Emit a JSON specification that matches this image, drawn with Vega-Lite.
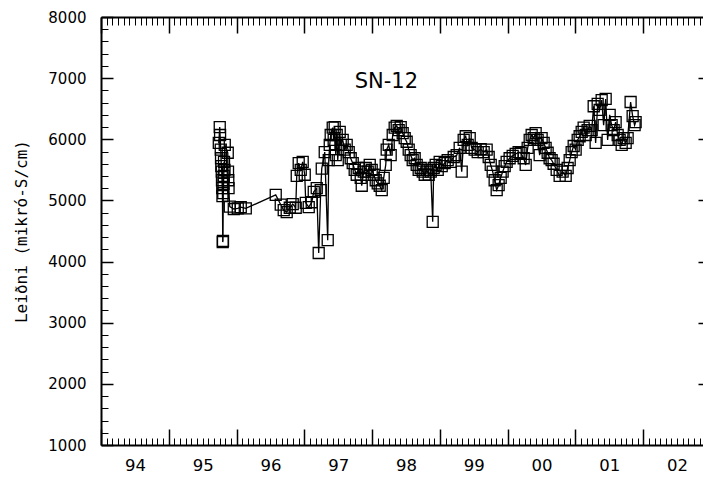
{
  "$schema": "https://vega.github.io/schema/vega-lite/v6.json",
  "width": 602,
  "height": 428,
  "autosize": "none",
  "padding": {"left": 101, "top": 17, "right": 0, "bottom": 33},
  "background": "white",
  "config": {"view": {"stroke": null}},
  "data": {"values": [
    {"t": 1995.738, "v": 5940}, {"t": 1995.752, "v": 6200}, {"t": 1995.757, "v": 6070}, {"t": 1995.767, "v": 5830},
    {"t": 1995.771, "v": 5690}, {"t": 1995.775, "v": 5560}, {"t": 1995.782, "v": 5470}, {"t": 1995.785, "v": 5330},
    {"t": 1995.789, "v": 5200}, {"t": 1995.792, "v": 5070}, {"t": 1995.796, "v": 4320}, {"t": 1995.800, "v": 4340},
    {"t": 1995.804, "v": 5120}, {"t": 1995.808, "v": 5270}, {"t": 1995.811, "v": 5400}, {"t": 1995.815, "v": 5630},
    {"t": 1995.822, "v": 5500}, {"t": 1995.826, "v": 5910}, {"t": 1995.870, "v": 5780}, {"t": 1995.874, "v": 5470},
    {"t": 1995.878, "v": 5330}, {"t": 1995.882, "v": 5200}, {"t": 1995.900, "v": 4900}, {"t": 1995.959, "v": 4860},
    {"t": 1996.018, "v": 4870}, {"t": 1996.062, "v": 4890}, {"t": 1996.136, "v": 4870},
    {"t": 1996.578, "v": 5090}, {"t": 1996.652, "v": 4930}, {"t": 1996.696, "v": 4840}, {"t": 1996.740, "v": 4810},
    {"t": 1996.785, "v": 4880}, {"t": 1996.829, "v": 4940}, {"t": 1996.873, "v": 4880}, {"t": 1996.888, "v": 5400},
    {"t": 1996.917, "v": 5610}, {"t": 1996.947, "v": 5500}, {"t": 1996.976, "v": 5630}, {"t": 1997.006, "v": 5420},
    {"t": 1997.021, "v": 4960}, {"t": 1997.065, "v": 4890}, {"t": 1997.109, "v": 4970}, {"t": 1997.139, "v": 5140},
    {"t": 1997.183, "v": 5200}, {"t": 1997.212, "v": 4140}, {"t": 1997.242, "v": 5170}, {"t": 1997.257, "v": 5520},
    {"t": 1997.301, "v": 5790}, {"t": 1997.345, "v": 4350}, {"t": 1997.360, "v": 5660}, {"t": 1997.375, "v": 5910},
    {"t": 1997.389, "v": 6070}, {"t": 1997.419, "v": 6190}, {"t": 1997.433, "v": 5990}, {"t": 1997.448, "v": 6200},
    {"t": 1997.463, "v": 5740}, {"t": 1997.478, "v": 6070}, {"t": 1997.493, "v": 5660}, {"t": 1997.522, "v": 6120},
    {"t": 1997.537, "v": 5910}, {"t": 1997.566, "v": 5990}, {"t": 1997.596, "v": 5830}, {"t": 1997.625, "v": 5910},
    {"t": 1997.655, "v": 5790}, {"t": 1997.684, "v": 5690}, {"t": 1997.714, "v": 5610}, {"t": 1997.743, "v": 5500},
    {"t": 1997.773, "v": 5420}, {"t": 1997.802, "v": 5530}, {"t": 1997.832, "v": 5370}, {"t": 1997.847, "v": 5240},
    {"t": 1997.876, "v": 5470}, {"t": 1997.906, "v": 5530}, {"t": 1997.935, "v": 5470}, {"t": 1997.965, "v": 5580},
    {"t": 1997.994, "v": 5500}, {"t": 1998.024, "v": 5420}, {"t": 1998.053, "v": 5330}, {"t": 1998.083, "v": 5280},
    {"t": 1998.112, "v": 5240}, {"t": 1998.142, "v": 5170}, {"t": 1998.171, "v": 5370}, {"t": 1998.201, "v": 5580},
    {"t": 1998.215, "v": 5830}, {"t": 1998.245, "v": 5910}, {"t": 1998.274, "v": 5740}, {"t": 1998.304, "v": 6070},
    {"t": 1998.333, "v": 6190}, {"t": 1998.363, "v": 6220}, {"t": 1998.392, "v": 6150}, {"t": 1998.422, "v": 6200},
    {"t": 1998.451, "v": 6100}, {"t": 1998.481, "v": 6020}, {"t": 1998.510, "v": 5960}, {"t": 1998.540, "v": 5830},
    {"t": 1998.569, "v": 5740}, {"t": 1998.599, "v": 5660}, {"t": 1998.628, "v": 5690}, {"t": 1998.658, "v": 5580},
    {"t": 1998.687, "v": 5500}, {"t": 1998.717, "v": 5530}, {"t": 1998.747, "v": 5470}, {"t": 1998.776, "v": 5420},
    {"t": 1998.806, "v": 5500}, {"t": 1998.835, "v": 5420}, {"t": 1998.865, "v": 5470}, {"t": 1998.894, "v": 4650},
    {"t": 1998.909, "v": 5530}, {"t": 1998.938, "v": 5580}, {"t": 1998.968, "v": 5500}, {"t": 1998.997, "v": 5630},
    {"t": 1999.027, "v": 5560}, {"t": 1999.071, "v": 5610}, {"t": 1999.115, "v": 5660}, {"t": 1999.159, "v": 5630},
    {"t": 1999.204, "v": 5710}, {"t": 1999.248, "v": 5740}, {"t": 1999.292, "v": 5860}, {"t": 1999.322, "v": 5470},
    {"t": 1999.351, "v": 5990}, {"t": 1999.381, "v": 6050}, {"t": 1999.410, "v": 5910}, {"t": 1999.440, "v": 6020},
    {"t": 1999.469, "v": 5860}, {"t": 1999.513, "v": 5830}, {"t": 1999.558, "v": 5790}, {"t": 1999.602, "v": 5840},
    {"t": 1999.646, "v": 5790}, {"t": 1999.690, "v": 5830}, {"t": 1999.720, "v": 5710}, {"t": 1999.750, "v": 5580},
    {"t": 1999.779, "v": 5470}, {"t": 1999.808, "v": 5330}, {"t": 1999.838, "v": 5170}, {"t": 1999.867, "v": 5250},
    {"t": 1999.897, "v": 5370}, {"t": 1999.926, "v": 5470}, {"t": 1999.956, "v": 5560}, {"t": 1999.985, "v": 5630},
    {"t": 2000.029, "v": 5690}, {"t": 2000.074, "v": 5730}, {"t": 2000.118, "v": 5760}, {"t": 2000.162, "v": 5790},
    {"t": 2000.192, "v": 5780}, {"t": 2000.236, "v": 5690}, {"t": 2000.266, "v": 5580}, {"t": 2000.295, "v": 5860},
    {"t": 2000.325, "v": 5990}, {"t": 2000.354, "v": 6070}, {"t": 2000.384, "v": 6020}, {"t": 2000.413, "v": 6100},
    {"t": 2000.442, "v": 5990}, {"t": 2000.472, "v": 5740}, {"t": 2000.501, "v": 6020}, {"t": 2000.531, "v": 5940},
    {"t": 2000.560, "v": 5860}, {"t": 2000.590, "v": 5780}, {"t": 2000.619, "v": 5690}, {"t": 2000.649, "v": 5660},
    {"t": 2000.678, "v": 5600}, {"t": 2000.723, "v": 5500}, {"t": 2000.767, "v": 5400}, {"t": 2000.811, "v": 5470},
    {"t": 2000.856, "v": 5400}, {"t": 2000.885, "v": 5530}, {"t": 2000.915, "v": 5660}, {"t": 2000.944, "v": 5790},
    {"t": 2000.974, "v": 5890}, {"t": 2001.003, "v": 5830}, {"t": 2001.033, "v": 5990}, {"t": 2001.062, "v": 6050},
    {"t": 2001.092, "v": 6120}, {"t": 2001.121, "v": 6190}, {"t": 2001.151, "v": 6070}, {"t": 2001.180, "v": 6150},
    {"t": 2001.210, "v": 6220}, {"t": 2001.239, "v": 6150}, {"t": 2001.269, "v": 6540}, {"t": 2001.298, "v": 5940},
    {"t": 2001.328, "v": 6580}, {"t": 2001.357, "v": 6480}, {"t": 2001.387, "v": 6640}, {"t": 2001.416, "v": 6230},
    {"t": 2001.446, "v": 6660}, {"t": 2001.475, "v": 5990}, {"t": 2001.505, "v": 6400}, {"t": 2001.534, "v": 6230},
    {"t": 2001.564, "v": 6150}, {"t": 2001.593, "v": 6280}, {"t": 2001.623, "v": 6070}, {"t": 2001.652, "v": 5990},
    {"t": 2001.682, "v": 5910}, {"t": 2001.711, "v": 6020}, {"t": 2001.741, "v": 5940}, {"t": 2001.770, "v": 6020},
    {"t": 2001.814, "v": 6610}, {"t": 2001.844, "v": 6380}, {"t": 2001.873, "v": 6230}, {"t": 2001.888, "v": 6280}
  ]},
  "resolve": {"axis": {"x": "independent", "y": "independent"}},
  "layer": [
    {
      "mark": {"type": "line", "color": "black", "strokeWidth": 1.3},
      "encoding": {
        "x": {"field": "t", "type": "quantitative",
          "scale": {"domain": [1994, 2002.882], "nice": false, "zero": false},
          "axis": {"orient": "bottom", "title": null, "grid": false,
            "values": [1994, 1994.0833, 1994.1667, 1994.25, 1994.3333, 1994.4167, 1994.5, 1994.5833, 1994.6667, 1994.75, 1994.8333, 1994.9167,
              1995, 1995.0833, 1995.1667, 1995.25, 1995.3333, 1995.4167, 1995.5, 1995.5833, 1995.6667, 1995.75, 1995.8333, 1995.9167,
              1996, 1996.0833, 1996.1667, 1996.25, 1996.3333, 1996.4167, 1996.5, 1996.5833, 1996.6667, 1996.75, 1996.8333, 1996.9167,
              1997, 1997.0833, 1997.1667, 1997.25, 1997.3333, 1997.4167, 1997.5, 1997.5833, 1997.6667, 1997.75, 1997.8333, 1997.9167,
              1998, 1998.0833, 1998.1667, 1998.25, 1998.3333, 1998.4167, 1998.5, 1998.5833, 1998.6667, 1998.75, 1998.8333, 1998.9167,
              1999, 1999.0833, 1999.1667, 1999.25, 1999.3333, 1999.4167, 1999.5, 1999.5833, 1999.6667, 1999.75, 1999.8333, 1999.9167,
              2000, 2000.0833, 2000.1667, 2000.25, 2000.3333, 2000.4167, 2000.5, 2000.5833, 2000.6667, 2000.75, 2000.8333, 2000.9167,
              2001, 2001.0833, 2001.1667, 2001.25, 2001.3333, 2001.4167, 2001.5, 2001.5833, 2001.6667, 2001.75, 2001.8333, 2001.9167,
              2002, 2002.0833, 2002.1667, 2002.25, 2002.3333, 2002.4167, 2002.5, 2002.5833, 2002.6667, 2002.75, 2002.8333],
            "domain": true, "domainColor": "black", "domainWidth": 2,
            "tickColor": "black",
            "tickSize": {"expr": "abs(datum.value - round(datum.value)) < 0.01 ? -16 : -7"},
            "tickWidth": {"expr": "abs(datum.value - round(datum.value)) < 0.01 ? 1.5 : 1"},
            "labelExpr": "abs(datum.value - floor(datum.value) - 0.5) < 0.01 ? format(floor(datum.value) % 100, '02d') : ''",
            "labelOverlap": false, "labelFlush": false, "labelBound": false,
            "labelFont": "DejaVu Sans", "labelFontSize": 16.5, "labelColor": "black", "labelPadding": 19
          }
        },
        "y": {"field": "v", "type": "quantitative",
          "scale": {"domain": [1000, 8000], "nice": false, "zero": false},
          "axis": {"orient": "left", "grid": false,
            "values": [1000, 1200, 1400, 1600, 1800, 2000, 2200, 2400, 2600, 2800, 3000, 3200, 3400, 3600, 3800, 4000, 4200, 4400, 4600, 4800, 5000, 5200, 5400, 5600, 5800, 6000, 6200, 6400, 6600, 6800, 7000, 7200, 7400, 7600, 7800, 8000],
            "domain": true, "domainColor": "black", "domainWidth": 2,
            "tickColor": "black",
            "tickSize": {"expr": "datum.value % 1000 == 0 ? -12 : -7"},
            "tickWidth": {"expr": "datum.value % 1000 == 0 ? 1.5 : 1"},
            "labelExpr": "datum.value % 1000 == 0 ? format(datum.value, 'd') : ''",
            "labelOverlap": false, "labelFlush": false, "labelBound": false,
            "labelFont": "DejaVu Sans", "labelFontSize": 15, "labelColor": "black", "labelPadding": 27,
            "title": "Leiðni  (mikró-S/cm)", "titleFont": "DejaVu Sans Mono", "titleFontSize": 16,
            "titleFontWeight": "normal", "titleColor": "black", "titlePadding": 18
          }
        }
      }
    },
    {
      "mark": {"type": "point", "shape": "square", "size": 121, "filled": false, "stroke": "black", "strokeWidth": 1.3, "opacity": 1},
      "encoding": {
        "x": {"field": "t", "type": "quantitative",
          "axis": {"orient": "top", "title": null, "grid": false, "labels": false,
            "values": [1994, 1994.0833, 1994.1667, 1994.25, 1994.3333, 1994.4167, 1994.5, 1994.5833, 1994.6667, 1994.75, 1994.8333, 1994.9167,
              1995, 1995.0833, 1995.1667, 1995.25, 1995.3333, 1995.4167, 1995.5, 1995.5833, 1995.6667, 1995.75, 1995.8333, 1995.9167,
              1996, 1996.0833, 1996.1667, 1996.25, 1996.3333, 1996.4167, 1996.5, 1996.5833, 1996.6667, 1996.75, 1996.8333, 1996.9167,
              1997, 1997.0833, 1997.1667, 1997.25, 1997.3333, 1997.4167, 1997.5, 1997.5833, 1997.6667, 1997.75, 1997.8333, 1997.9167,
              1998, 1998.0833, 1998.1667, 1998.25, 1998.3333, 1998.4167, 1998.5, 1998.5833, 1998.6667, 1998.75, 1998.8333, 1998.9167,
              1999, 1999.0833, 1999.1667, 1999.25, 1999.3333, 1999.4167, 1999.5, 1999.5833, 1999.6667, 1999.75, 1999.8333, 1999.9167,
              2000, 2000.0833, 2000.1667, 2000.25, 2000.3333, 2000.4167, 2000.5, 2000.5833, 2000.6667, 2000.75, 2000.8333, 2000.9167,
              2001, 2001.0833, 2001.1667, 2001.25, 2001.3333, 2001.4167, 2001.5, 2001.5833, 2001.6667, 2001.75, 2001.8333, 2001.9167,
              2002, 2002.0833, 2002.1667, 2002.25, 2002.3333, 2002.4167, 2002.5, 2002.5833, 2002.6667, 2002.75, 2002.8333],
            "domain": true, "domainColor": "black", "domainWidth": 2,
            "tickColor": "black",
            "tickSize": {"expr": "abs(datum.value - round(datum.value)) < 0.01 ? -16 : -8"},
            "tickWidth": {"expr": "abs(datum.value - round(datum.value)) < 0.01 ? 1.5 : 1"}
          }
        },
        "y": {"field": "v", "type": "quantitative",
          "axis": {"orient": "right", "title": null, "grid": false, "labels": false, "domain": false,
            "values": [2000, 3000, 4000, 5000, 6000, 7000],
            "tickColor": "black", "tickSize": -5, "tickWidth": 1.5
          }
        }
      }
    },
    {
      "data": {"values": [{"label": "SN-12"}]},
      "mark": {"type": "text", "font": "DejaVu Sans", "fontSize": 21, "color": "black", "align": "center", "baseline": "middle"},
      "encoding": {
        "text": {"field": "label"},
        "x": {"datum": 1998.21, "type": "quantitative", "axis": null},
        "y": {"datum": 6940, "type": "quantitative", "axis": null}
      }
    }
  ]
}
